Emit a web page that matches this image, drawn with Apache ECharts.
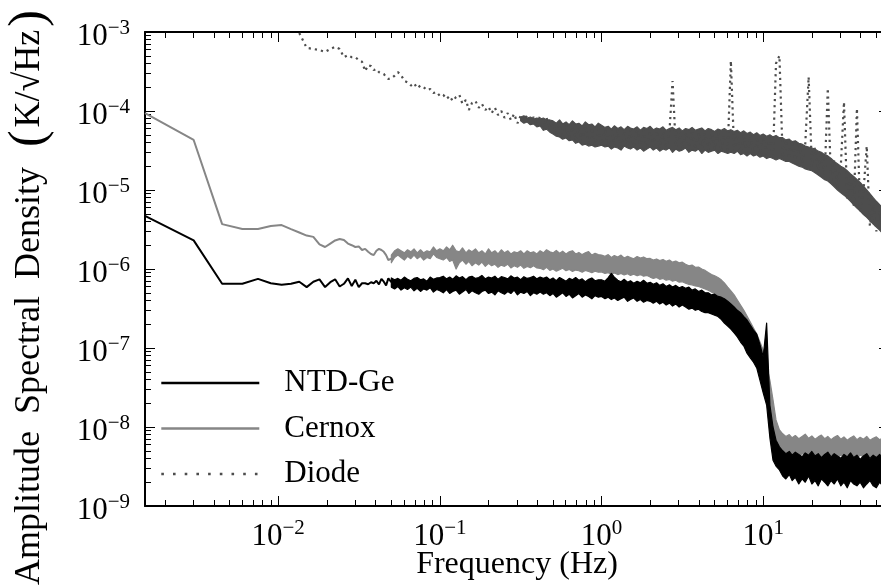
<!DOCTYPE html>
<html><head><meta charset="utf-8">
<script src="https://cdn.jsdelivr.net/npm/echarts@6/dist/echarts.min.js"></script>
<style>html,body{margin:0;padding:0;background:#fff}#c{width:881px;height:588px}</style>
</head><body><div id="c"></div>
<script>
// ---- data (frequency in Hz, amplitude spectral density in K/sqrt(Hz)) ----
const frequency = [
0.0015,0.003,0.0045,0.006,0.0075,0.009,0.0105,0.012,0.0135,0.015,0.0165,0.018,0.0195,0.021,0.0225,0.024,
0.0255,0.027,0.0285,0.03,0.0315,0.033,0.0345,0.036,0.0375,0.039,0.0405,0.042,0.0435,0.045,0.0465,0.048,
0.0501,0.0525,0.055,0.0575,0.0603,0.0631,0.0661,0.0692,0.0724,0.0759,0.0794,0.0832,0.0871,0.0912,0.0955,
0.1,0.105,0.11,0.115,0.12,0.126,0.132,0.138,0.145,0.151,0.158,0.166,0.174,0.182,0.191,0.2,0.209,0.219,0.229,0.24,
0.251,0.263,0.275,0.288,0.302,0.316,0.331,0.347,0.363,0.38,0.398,0.417,0.437,0.457,0.479,0.501,0.525,0.55,0.575,
0.603,0.631,0.661,0.692,0.724,0.759,0.794,0.832,0.871,0.912,0.955,
1,1.05,1.1,1.15,1.2,1.26,1.32,1.38,1.45,1.51,1.58,1.66,1.74,1.82,1.91,2,2.09,2.19,2.29,2.4,2.51,2.63,2.75,2.88,
3.02,3.16,3.31,3.47,3.63,3.8,3.98,4.17,4.37,4.57,4.79,5.01,5.25,5.5,5.75,6.03,6.31,6.61,6.92,7.24,7.59,7.94,8.32,
8.71,9.12,9.55,
10,10.5,11,11.5,12,12.6,13.2,13.8,14.5,15.1,15.8,16.6,17.4,18.2,19.1,20,20.9,21.9,22.9,24,25.1,26.3,27.5,28.8,
30.2,31.6,33.1,34.7,36.3,38,39.8,41.7,43.7,45.7,47.9,50.1,52.5,55,57.5,60
];
// low-frequency single-valued part (frequency[0] .. frequency[32])
const ntdGe = [
4.7e-6,2.3e-6,6.5e-7,6.5e-7,7.5e-7,6.6e-7,6.3e-7,6.5e-7,6.9e-7,5.9e-7,6.9e-7,7.4e-7,5.9e-7,6.8e-7,7.4e-7,6.0e-7,
6.5e-7,7.6e-7,6.1e-7,7.3e-7,5.9e-7,6.6e-7,6.6e-7,6.4e-7,6.8e-7,6.6e-7,7.1e-7,6.4e-7,7.5e-7,6.9e-7,6.2e-7,7.6e-7,6.8e-7
];
const cernox = [
9.4e-5,4.3e-5,3.7e-6,3.2e-6,3.2e-6,3.5e-6,3.6e-6,3.2e-6,2.9e-6,2.65e-6,2.55e-6,2.05e-6,1.9e-6,2.1e-6,2.3e-6,2.4e-6,
2.33e-6,2.1e-6,2.0e-6,1.9e-6,1.93e-6,1.74e-6,1.8e-6,1.65e-6,1.55e-6,1.5e-6,1.7e-6,1.8e-6,1.74e-6,1.65e-6,1.5e-6,1.3e-6,1.35e-6
];
// noisy part (frequency[32] .. end): upper / lower edge of the noise band
const ntdGeHigh = [
7.7e-7,7.3e-7,7.6e-7,7.2e-7,7.9e-7,7.4e-7,7.1e-7,7.6e-7,7.8e-7,7.3e-7,7.5e-7,7.0e-7,7.9e-7,7.4e-7,7.7e-7,
7.8e-7,8.1e-7,7.5e-7,7.9e-7,7.4e-7,8.2e-7,7.7e-7,8.0e-7,7.3e-7,7.9e-7,8.1e-7,7.6e-7,7.8e-7,8.3e-7,7.5e-7,7.9e-7,
7.7e-7,8.1e-7,7.4e-7,8.0e-7,7.8e-7,7.5e-7,8.2e-7,7.7e-7,7.9e-7,7.3e-7,8.0e-7,7.6e-7,7.8e-7,8.1e-7,7.5e-7,7.9e-7,
7.6e-7,7.9e-7,7.3e-7,7.7e-7,7.1e-7,7.8e-7,7.4e-7,7.0e-7,7.6e-7,7.3e-7,7.8e-7,7.2e-7,7.5e-7,6.9e-7,7.4e-7,7.7e-7,7.1e-7,7.3e-7,
7.3e-7,7.0e-7,7.8e-7,8.8e-7,7.9e-7,7.2e-7,6.9e-7,7.4e-7,6.8e-7,7.1e-7,6.6e-7,7.0e-7,6.7e-7,7.2e-7,6.6e-7,
6.8e-7,6.4e-7,6.7e-7,6.2e-7,6.5e-7,6.0e-7,6.3e-7,5.9e-7,6.2e-7,5.8e-7,6.0e-7,
5.7e-7,5.9e-7,5.4e-7,5.6e-7,5.2e-7,5.4e-7,5.0e-7,
5.0e-7,4.7e-7,4.8e-7,4.5e-7,4.4e-7,
4.2e-7,3.9e-7,3.6e-7,3.3e-7,
3.0e-7,2.8e-7,2.5e-7,2.26e-7,1.95e-7,1.69e-7,1.5e-7,1.1e-7,7.7e-8,2.07e-7,1.9e-8,1.0e-8,6.8e-9,5.6e-9,
5.0e-9,4.6e-9,4.9e-9,4.4e-9,4.8e-9,4.5e-9,4.2e-9,4.7e-9,4.4e-9,4.9e-9,4.3e-9,4.6e-9,4.1e-9,4.5e-9,4.8e-9,4.2e-9,4.6e-9,
4.3e-9,4.0e-9,4.5e-9,4.2e-9,4.7e-9,4.1e-9,4.4e-9,3.9e-9,4.3e-9,4.6e-9,4.0e-9,4.4e-9,4.1e-9,4.5e-9,3.9e-9,4.3e-9,4.0e-9
];
const ntdGeLow = [
5.9e-7,5.6e-7,6.0e-7,5.4e-7,5.8e-7,5.5e-7,5.9e-7,5.3e-7,5.7e-7,5.2e-7,5.6e-7,5.4e-7,5.8e-7,5.1e-7,5.5e-7,
5.3e-7,5.0e-7,5.5e-7,4.9e-7,5.2e-7,5.4e-7,4.8e-7,5.1e-7,5.5e-7,4.9e-7,5.3e-7,5.0e-7,4.8e-7,5.2e-7,5.4e-7,4.9e-7,
5.1e-7,4.7e-7,5.3e-7,5.0e-7,4.8e-7,5.2e-7,4.9e-7,5.4e-7,4.7e-7,5.1e-7,4.9e-7,5.2e-7,4.6e-7,5.0e-7,4.8e-7,5.1e-7,
4.8e-7,5.0e-7,4.6e-7,4.9e-7,4.4e-7,4.7e-7,5.0e-7,4.5e-7,4.8e-7,4.3e-7,4.6e-7,4.9e-7,4.4e-7,4.7e-7,4.5e-7,4.2e-7,4.6e-7,4.4e-7,
4.5e-7,4.2e-7,4.4e-7,4.1e-7,4.3e-7,4.0e-7,4.2e-7,4.4e-7,3.9e-7,4.1e-7,4.3e-7,3.9e-7,4.1e-7,3.8e-7,4.0e-7,
3.9e-7,3.7e-7,3.9e-7,3.6e-7,3.8e-7,3.5e-7,3.7e-7,3.4e-7,3.6e-7,3.3e-7,3.5e-7,
3.3e-7,3.1e-7,3.2e-7,3.0e-7,3.1e-7,2.9e-7,2.8e-7,
2.8e-7,2.7e-7,2.6e-7,2.5e-7,2.3e-7,
2.07e-7,1.9e-7,1.74e-7,1.55e-7,
1.38e-7,1.19e-7,1.06e-7,8.6e-8,7.5e-8,6.6e-8,5.6e-8,3.9e-8,2.7e-8,1.9e-8,7.3e-9,3.8e-9,3.2e-9,2.86e-9,
2.4e-9,2.2e-9,2.5e-9,2.1e-9,2.3e-9,1.9e-9,2.2e-9,2.0e-9,2.4e-9,1.9e-9,2.1e-9,1.8e-9,2.2e-9,2.0e-9,1.8e-9,2.1e-9,1.9e-9,
2.2e-9,1.8e-9,2.0e-9,1.7e-9,2.1e-9,1.9e-9,1.8e-9,2.0e-9,1.7e-9,1.9e-9,2.1e-9,1.8e-9,1.7e-9,2.0e-9,1.8e-9,1.9e-9,1.7e-9
];
const cernoxHigh = [
1.5e-6,1.7e-6,1.8e-6,1.7e-6,1.6e-6,1.75e-6,1.65e-6,1.8e-6,1.6e-6,1.75e-6,1.6e-6,1.7e-6,1.65e-6,1.9e-6,1.7e-6,
1.8e-6,1.7e-6,1.9e-6,1.75e-6,2.0e-6,1.7e-6,1.65e-6,1.85e-6,1.6e-6,1.75e-6,1.65e-6,1.8e-6,1.6e-6,1.7e-6,1.55e-6,1.8e-6,
1.6e-6,1.7e-6,1.55e-6,1.75e-6,1.6e-6,1.7e-6,1.55e-6,1.65e-6,1.6e-6,1.7e-6,1.55e-6,1.7e-6,1.6e-6,1.65e-6,1.55e-6,
1.7e-6,1.6e-6,1.75e-6,1.65e-6,1.6e-6,1.72e-6,1.58e-6,1.68e-6,1.55e-6,1.65e-6,1.7e-6,1.55e-6,1.62e-6,1.52e-6,1.6e-6,1.66e-6,1.5e-6,1.58e-6,1.52e-6,
1.5e-6,1.45e-6,1.52e-6,1.4e-6,1.48e-6,1.42e-6,1.5e-6,1.38e-6,1.45e-6,1.4e-6,1.35e-6,1.44e-6,1.38e-6,1.42e-6,1.35e-6,
1.36e-6,1.3e-6,1.34e-6,1.28e-6,1.32e-6,1.25e-6,1.3e-6,1.22e-6,1.26e-6,1.2e-6,1.22e-6,
1.15e-6,1.1e-6,1.12e-6,1.05e-6,1.06e-6,1.0e-6,9.6e-7,
9.0e-7,8.5e-7,8.2e-7,7.8e-7,7.3e-7,
6.65e-7,5.9e-7,5.3e-7,4.7e-7,
4.05e-7,3.5e-7,3.0e-7,2.54e-7,2.13e-7,1.79e-7,1.5e-7,1.19e-7,9.4e-8,6.1e-8,3.9e-8,2.2e-8,1.23e-8,9.2e-9,
8.2e-9,7.6e-9,8.0e-9,7.3e-9,7.8e-9,7.1e-9,7.6e-9,8.1e-9,7.2e-9,7.7e-9,7.0e-9,7.5e-9,7.9e-9,7.1e-9,7.6e-9,6.9e-9,7.4e-9,
7.8e-9,7.0e-9,7.5e-9,6.8e-9,7.3e-9,7.7e-9,6.9e-9,7.4e-9,7.0e-9,7.6e-9,6.8e-9,7.2e-9,7.5e-9,6.9e-9,7.3e-9,6.7e-9,7.1e-9
];
const cernoxLow = [
1.2e-6,1.4e-6,1.5e-6,1.4e-6,1.3e-6,1.45e-6,1.35e-6,1.5e-6,1.35e-6,1.45e-6,1.3e-6,1.4e-6,1.35e-6,1.55e-6,1.4e-6,
1.35e-6,1.3e-6,1.4e-6,1.25e-6,1.3e-6,1.0e-6,1.2e-6,1.3e-6,1.15e-6,1.25e-6,1.1e-6,1.2e-6,1.12e-6,1.22e-6,1.08e-6,1.18e-6,
1.1e-6,1.15e-6,1.05e-6,1.12e-6,1.08e-6,1.15e-6,1.03e-6,1.1e-6,1.05e-6,1.12e-6,1.02e-6,1.08e-6,1.04e-6,1.1e-6,1.03e-6,
1.02e-6,9.8e-7,1.05e-6,9.6e-7,1.0e-6,9.4e-7,9.8e-7,1.02e-6,9.5e-7,9.9e-7,9.3e-7,9.7e-7,9.5e-7,9.1e-7,9.6e-7,9.3e-7,9.0e-7,9.4e-7,9.1e-7,
9.2e-7,8.8e-7,9.0e-7,8.6e-7,8.9e-7,8.5e-7,8.8e-7,8.4e-7,8.7e-7,8.3e-7,8.6e-7,8.2e-7,8.5e-7,8.1e-7,8.3e-7,
7.9e-7,7.6e-7,7.8e-7,7.4e-7,7.6e-7,7.2e-7,7.4e-7,7.0e-7,7.2e-7,6.8e-7,6.9e-7,
6.6e-7,6.4e-7,6.3e-7,6.1e-7,6.0e-7,5.8e-7,5.6e-7,
5.4e-7,5.1e-7,4.9e-7,4.6e-7,4.3e-7,
3.8e-7,3.4e-7,2.94e-7,2.5e-7,
2.13e-7,1.79e-7,1.5e-7,1.26e-7,1.03e-7,8.6e-8,6.6e-8,5.0e-8,3.4e-8,2.2e-8,1.42e-8,9.2e-9,5.9e-9,5.1e-9,
4.6e-9,4.4e-9,4.7e-9,4.3e-9,4.5e-9,4.2e-9,4.6e-9,4.4e-9,4.1e-9,4.5e-9,4.3e-9,4.6e-9,4.2e-9,4.4e-9,4.1e-9,4.5e-9,4.3e-9,
4.0e-9,4.4e-9,4.2e-9,4.5e-9,4.1e-9,4.3e-9,4.0e-9,4.4e-9,4.2e-9,4.1e-9,4.3e-9,4.0e-9,4.2e-9,4.4e-9,4.1e-9,4.0e-9,4.2e-9
];
// diode: individual samples over the whole range (null = above the plotted range)
const diode = [
null,null,null,null,null,null,null,null,9.7e-4,6.3e-4,6.1e-4,5.9e-4,5.6e-4,6.1e-4,6.5e-4,6.1e-4,
4.8e-4,5.1e-4,4.8e-4,4.8e-4,4.4e-4,4.2e-4,3.2e-4,3.8e-4,3.7e-4,3.3e-4,3.4e-4,3.1e-4,3.0e-4,2.94e-4,2.7e-4,2.54e-4,
2.6e-4,2.8e-4,3.1e-4,2.85e-4,2.4e-4,2.3e-4,2.1e-4,2.25e-4,1.95e-4,2.1e-4,2.0e-4,1.84e-4,1.9e-4,1.69e-4,1.74e-4,
1.55e-4,1.6e-4,1.42e-4,1.55e-4,1.34e-4,1.5e-4,1.6e-4,1.23e-4,1.38e-4,1.03e-4,1.26e-4,1.34e-4,1.1e-4,1.23e-4,1.03e-4,
1.13e-4,9.4e-5,1.1e-4,8.9e-5,1.0e-4,8.2e-5,9.4e-5,7.7e-5,9.2e-5,7.0e-5,8.7e-5,7.5e-5,8.9e-5,6.8e-5,8.4e-5,
6.5e-5,8.7e-5,6.3e-5,8.2e-5,6.1e-5,
6.8e-5,5.2e-5,6.7e-5,4.9e-5,6.5e-5,4.6e-5,6.3e-5,4.3e-5,6.1e-5,4.2e-5,6.3e-5,3.9e-5,6.1e-5,3.7e-5,5.9e-5,
3.8e-5,5.7e-5,3.6e-5,5.9e-5,3.7e-5,5.7e-5,3.5e-5,5.6e-5,3.8e-5,5.7e-5,3.6e-5,5.6e-5,3.7e-5,5.7e-5,3.5e-5,
5.6e-5,3.6e-5,5.6e-5,3.4e-5,5.4e-5,3.5e-5,5.4e-5,2.4e-4,3.5e-5,5.4e-5,3.4e-5,5.3e-5,3.5e-5,5.3e-5,3.3e-5,
5.3e-5,3.4e-5,5.2e-5,3.2e-5,5.2e-5,3.3e-5,5.2e-5,3.1e-5,5.0e-5,3.2e-5,4.3e-4,3.1e-5,5.0e-5,3.0e-5,4.9e-5,
3.0e-5,4.9e-5,2.9e-5,4.7e-5,2.8e-5,4.7e-5,2.8e-5,4.6e-5,2.7e-5,4.0e-4,5.0e-4,2.6e-5,4.3e-5,2.5e-5,4.2e-5,
2.4e-5,4.0e-5,2.2e-5,3.8e-5,2.7e-4,2.0e-5,3.4e-5,1.79e-5,3.0e-5,1.52e-5,1.94e-4,1.26e-5,2.4e-5,1.07e-5,2.0e-5,
1.3e-4,7.5e-6,1.55e-5,6.1e-6,1.08e-4,5.1e-6,9.5e-6,3.6e-5,3.5e-6,6.5e-6,3.0e-6,5.3e-6,2.5e-6,4.4e-6,2.2e-6
];
// diode dense band (frequency[72] .. end)
const diodeHigh = [
8.4e-5,8.7e-5,8.15e-5,8.4e-5,7.9e-5,8.15e-5,7.9e-5,8.15e-5,7.7e-5,7.7e-5,
7.5e-5,7.0e-5,7.7e-5,6.85e-5,7.26e-5,6.7e-5,7.5e-5,6.85e-5,7.0e-5,6.46e-5,7.26e-5,6.7e-5,6.85e-5,6.3e-5,7.0e-5,
6.6e-5,6.2e-5,6.4e-5,5.9e-5,6.5e-5,6.0e-5,6.3e-5,5.8e-5,6.4e-5,6.1e-5,5.9e-5,6.3e-5,5.7e-5,6.2e-5,6.0e-5,6.4e-5,5.8e-5,6.1e-5,5.9e-5,6.3e-5,
5.7e-5,6.0e-5,6.2e-5,5.8e-5,6.1e-5,5.6e-5,6.0e-5,5.8e-5,6.2e-5,5.7e-5,5.9e-5,6.1e-5,5.6e-5,6.0e-5,5.8e-5,5.5e-5,5.9e-5,5.7e-5,6.0e-5,5.6e-5,
5.8e-5,5.5e-5,5.7e-5,5.3e-5,5.6e-5,5.2e-5,5.4e-5,5.0e-5,5.3e-5,4.9e-5,5.1e-5,4.8e-5,5.0e-5,4.7e-5,4.9e-5,4.6e-5,
4.6e-5,4.3e-5,4.4e-5,4.1e-5,4.2e-5,3.9e-5,3.8e-5,3.6e-5,3.5e-5,
3.4e-5,3.3e-5,3.1e-5,3.0e-5,2.8e-5,
2.7e-5,2.5e-5,2.3e-5,2.15e-5,2.0e-5,
1.9e-5,1.75e-5,1.6e-5,1.48e-5,1.36e-5,
1.25e-5,1.12e-5,1.0e-5,9.0e-6,8.0e-6,
7.2e-6,6.5e-6,5.9e-6,5.3e-6,4.8e-6
];
const diodeLow = [
7.5e-5,7.0e-5,7.26e-5,6.7e-5,6.85e-5,6.3e-5,6.46e-5,5.7e-5,5.9e-5,5.4e-5,
5.1e-5,4.8e-5,4.7e-5,4.4e-5,4.55e-5,4.2e-5,4.3e-5,3.9e-5,4.05e-5,3.7e-5,3.8e-5,3.6e-5,3.7e-5,3.5e-5,3.6e-5,
3.7e-5,3.5e-5,3.6e-5,3.3e-5,3.5e-5,3.4e-5,3.2e-5,3.6e-5,3.4e-5,3.3e-5,3.5e-5,3.2e-5,3.4e-5,3.1e-5,3.3e-5,3.5e-5,3.2e-5,3.4e-5,3.1e-5,3.3e-5,
3.2e-5,3.4e-5,3.0e-5,3.3e-5,3.1e-5,3.2e-5,3.4e-5,3.0e-5,3.2e-5,3.1e-5,3.3e-5,2.9e-5,3.2e-5,3.0e-5,3.1e-5,3.2e-5,2.9e-5,3.1e-5,3.0e-5,2.9e-5,
3.0e-5,2.9e-5,3.1e-5,2.8e-5,2.9e-5,2.7e-5,2.9e-5,2.7e-5,2.8e-5,2.6e-5,2.7e-5,2.5e-5,2.6e-5,2.5e-5,2.4e-5,2.5e-5,
2.4e-5,2.3e-5,2.3e-5,2.2e-5,2.1e-5,2.0e-5,1.95e-5,1.85e-5,1.8e-5,
1.75e-5,1.65e-5,1.55e-5,1.45e-5,1.35e-5,
1.3e-5,1.2e-5,1.1e-5,1.0e-5,9.2e-6,
8.6e-6,7.9e-6,7.2e-6,6.5e-6,5.9e-6,
5.4e-6,4.9e-6,4.5e-6,4.1e-6,3.7e-6,
3.4e-6,3.1e-6,2.8e-6,2.5e-6,2.2e-6
];
const seriesNames = ['NTD-Ge', 'Cernox', 'Diode'];
const xRange = [0.0015, 60];
const yRange = [1e-9, 1e-3];
const xMajorExp = [-2, -1, 0, 1];
const yMajorExp = [-9, -8, -7, -6, -5, -4, -3];

// ---- helpers ----
const FONT = 'Liberation Serif';
const DENSE_FROM = 32;        // first frequency index of the noisy band (NTD-Ge, Cernox)
const DIODE_DENSE_FROM = 72;  // first frequency index of the diode band

const xMinorExp = [];
for (let d = -3; d <= 1; d++) for (let m = 2; m <= 9; m++) {
  const v = m * Math.pow(10, d);
  if (v > xRange[0] && v < xRange[1]) xMinorExp.push(Math.log10(v));
}
const yMinorExp = [];
for (let d = -9; d <= -4; d++) for (let m = 2; m <= 9; m++) yMinorExp.push(Math.log10(m * Math.pow(10, d)));

function expLabel(v) {
  const e = Math.round(v);
  return '{b|10}{s|' + (e < 0 ? '\u2212' + (-e) : String(e)) + '}';
}
const labelRich = {
  b: { fontFamily: FONT, fontSize: 31, lineHeight: 34, verticalAlign: 'bottom', color: '#000' },
  s: { fontFamily: FONT, fontSize: 21, lineHeight: 21, verticalAlign: 'top', color: '#000' }
};

function tickAxis(dim, position, exps, len, withLine) {
  const lo = Math.log10(dim === 'x' ? xRange[0] : yRange[0]);
  const hi = Math.log10(dim === 'x' ? xRange[1] : yRange[1]);
  return {
    type: 'value', gridIndex: 0, position: position, min: lo, max: hi,
    axisLine: { show: withLine, onZero: false, lineStyle: { color: '#000', width: 2 } },
    axisTick: { show: true, inside: true, length: len, customValues: exps, lineStyle: { color: '#000', width: 1 } },
    axisLabel: { show: false },
    splitLine: { show: false },
    silent: true
  };
}

const xBottom = tickAxis('x', 'bottom', xMajorExp, 10, true);
xBottom.axisLabel = { show: true, customValues: xMajorExp, formatter: expLabel, rich: labelRich, margin: 12 };
xBottom.name = 'Frequency (Hz)';
xBottom.nameLocation = 'middle';
xBottom.nameGap = 42;
xBottom.nameMoveOverlap = false;
xBottom.nameTextStyle = { fontFamily: FONT, fontSize: 32, color: '#000', lineHeight: 34 };

const yLeft = tickAxis('y', 'left', yMajorExp, 10, true);
yLeft.axisLabel = { show: true, customValues: yMajorExp, formatter: expLabel, rich: labelRich, margin: 15, padding: [6, 0, 0, 0] };
yLeft.name = '{t|Amplitude}{g| }{t|Spectral}{g| }{t|Density}{g| }{p|(}{t|K/\u221AHz}{p|)}';
yLeft.nameLocation = 'middle';
yLeft.nameRotate = 90;
yLeft.nameGap = 95;
yLeft.nameMoveOverlap = false;
yLeft.nameTextStyle = {
  padding: [0, 54, 0, 0],
  rich: {
    t: { fontFamily: FONT, fontSize: 36, color: '#000', lineHeight: 40 },
    g: { fontFamily: FONT, fontSize: 36, width: 17, lineHeight: 40 },
    p: { fontFamily: FONT, fontSize: 50, color: '#000', lineHeight: 40, padding: [0, 3, 0, 3] }
  }
};

function lineSeries(name, values, style, z) {
  return {
    name: name, type: 'line', xAxisIndex: 0, yAxisIndex: 0,
    data: values.map((v, i) => [frequency[i], v == null ? '-' : v]),
    symbol: 'none', lineStyle: style, itemStyle: { color: style.color }, z: z
  };
}
function bandSeries(name, from, high, low, color, z) {
  const rows = high.map((h, i) => [frequency[from + i], h, low[i]]);
  return {
    name: name, type: 'custom', xAxisIndex: 0, yAxisIndex: 0, z: z, clip: true, silent: true,
    data: rows, encode: { x: 0, y: [1, 2] },
    itemStyle: { color: color },
    renderItem: function (params, api) {
      if (params.dataIndex !== 0) return null;
      const top = rows.map(r => api.coord([r[0], r[1]]));
      const bottom = rows.map(r => api.coord([r[0], r[2]])).reverse();
      return {
        type: 'polygon', shape: { points: top.concat(bottom) },
        style: { fill: color, stroke: color, lineWidth: 1.2, lineJoin: 'round' }
      };
    }
  };
}

const option = {
  animation: false,
  backgroundColor: '#fff',
  grid: { left: 145, top: 32, width: 744, height: 474, containLabel: false, outerBoundsMode: 'none' },
  xAxis: [
    { type: 'log', gridIndex: 0, min: xRange[0], max: xRange[1], show: false },
    xBottom,
    tickAxis('x', 'bottom', xMinorExp, 6, false),
    tickAxis('x', 'top', xMajorExp, 10, true),
    tickAxis('x', 'top', xMinorExp, 6, false)
  ],
  yAxis: [
    { type: 'log', gridIndex: 0, min: yRange[0], max: yRange[1], show: false },
    yLeft,
    tickAxis('y', 'left', yMinorExp, 6, false),
    tickAxis('y', 'right', yMajorExp, 10, true),
    tickAxis('y', 'right', yMinorExp, 6, false)
  ],
  legend: {
    orient: 'vertical', left: 155, top: 362,
    itemWidth: 98, itemHeight: 14, itemGap: 13.5,
    textStyle: { fontFamily: FONT, fontSize: 31, color: '#000', lineHeight: 32, padding: [0, 0, 0, 20] },
    itemStyle: { opacity: 0 },
    lineStyle: { width: 2.6 },
    data: [
      { name: seriesNames[0] },
      { name: seriesNames[1] },
      { name: seriesNames[2], lineStyle: { width: 2.6, type: [2.6, 9.1] } }
    ]
  },
  series: [
    lineSeries(seriesNames[0], ntdGe, { color: '#000', width: 2 }, 3),
    lineSeries(seriesNames[1], cernox, { color: '#868686', width: 2 }, 2),
    lineSeries(seriesNames[2], diode, { color: '#4d4d4d', width: 2.2, type: [2.2, 4] }, 5),
    bandSeries(seriesNames[1], DENSE_FROM, cernoxHigh, cernoxLow, '#868686', 2),
    bandSeries(seriesNames[0], DENSE_FROM, ntdGeHigh, ntdGeLow, '#000', 3),
    bandSeries(seriesNames[2], DIODE_DENSE_FROM, diodeHigh, diodeLow, '#4d4d4d', 4)
  ]
};
const chart = echarts.init(document.getElementById('c'), null, { renderer: 'canvas' });
chart.setOption(option);
</script>
</body></html>
